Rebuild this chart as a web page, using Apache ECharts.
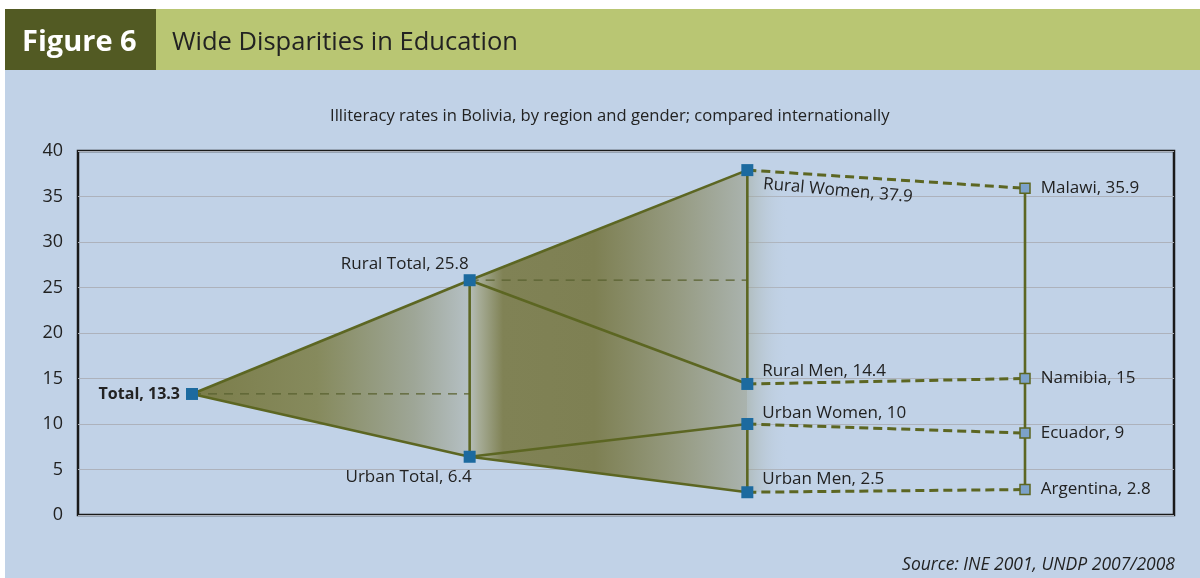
<!DOCTYPE html>
<html>
<head>
<meta charset="utf-8">
<script src="https://cdn.jsdelivr.net/npm/echarts@6/dist/echarts.min.js"></script>
<style>
html,body{margin:0;padding:0;background:#fff;}
#chart{width:1200px;height:578px;}
</style>
</head>
<body>
<div id="chart"></div>
<script>
// ---- data ----
const figureLabel = 'Figure 6';
const titleText = 'Wide Disparities in Education';
const subtitleText = 'Illiteracy rates in Bolivia, by region and gender; compared internationally';
const sourceText = 'Source: INE 2001, UNDP 2007/2008';

const bolNames  = ['Total', 'Rural Total', 'Urban Total', 'Rural Women', 'Rural Men', 'Urban Women', 'Urban Men'];
const bolValues = [13.3, 25.8, 6.4, 37.9, 14.4, 10, 2.5];
const bolStage  = [0, 1, 1, 2, 2, 2, 2];

const countryNames  = ['Malawi', 'Namibia', 'Ecuador', 'Argentina'];
const countryValues = [35.9, 15, 9, 2.8];
const countryStage  = 3;

const yTicks = [0, 5, 10, 15, 20, 25, 30, 35, 40];

// links (index pairs)
const solidLinks = [[0,1],[0,2],[1,2],[1,3],[1,4],[2,5],[2,6],[3,4],[5,6]];
const compareLinks = [[3,0],[4,1],[5,2],[6,3]]; // bolivia idx -> country idx

// ---- styles ----
const FONT = 'Open Sans';
const OLIVE = '#5c6622';
const BLUE_BG = '#c1d2e7';

const chart = echarts.init(document.getElementById('chart'));

const bolPts = bolValues.map((v, i) => [bolStage[i], v]);
const ctyPts = countryValues.map(v => [countryStage, v]);

const series = [];

// shaded fans
series.push({
  type: 'custom',
  z: 1,
  silent: true,
  data: [0],
  renderItem: function (params, api) {
    const c = (i) => api.coord(bolPts[i]);
    const p0 = c(0), p1 = c(1), p2 = c(2), p3 = c(3), p6 = c(6);
    return {
      type: 'group',
      children: [
        {
          type: 'polygon',
          shape: { points: [p0, p1, p2] },
          style: {
            fill: new echarts.graphic.LinearGradient(0, 0, 1, 0, [
              { offset: 0, color: '#7b7d4a' },
              { offset: 0.45, color: '#868a5d' },
              { offset: 0.8, color: '#9ea697' },
              { offset: 1, color: '#b5c0c4' }
            ])
          }
        },
        {
          type: 'polygon',
          shape: { points: [p1, p3, p6, p2] },
          style: {
            fill: new echarts.graphic.LinearGradient(0, 0, 1, 0, [
              { offset: 0, color: '#b5beba' },
              { offset: 0.03, color: '#a8ae9a' },
              { offset: 0.12, color: '#808255' },
              { offset: 0.45, color: '#7e8053' },
              { offset: 0.75, color: '#969b82' },
              { offset: 1, color: '#aab3ae' }
            ])
          }
        },
        {
          type: 'rect',
          shape: { x: p3[0], y: p3[1], width: 42, height: p6[1] - p3[1] },
          style: {
            fill: new echarts.graphic.LinearGradient(0, 0, 1, 0, [
              { offset: 0, color: 'rgba(160,168,150,0.5)' },
              { offset: 1, color: 'rgba(193,210,231,0)' }
            ])
          }
        }
      ]
    };
  }
});

// solid links
solidLinks.forEach(([a, b]) => {
  series.push({
    type: 'line', z: 3, silent: true, symbol: 'none',
    lineStyle: { color: OLIVE, width: 2.6 },
    data: [bolPts[a], bolPts[b]]
  });
});
// country vertical
series.push({
  type: 'line', z: 3, silent: true, symbol: 'none',
  lineStyle: { color: OLIVE, width: 2.6 },
  data: [ctyPts[0], ctyPts[ctyPts.length - 1]]
});
// thin dashed reference lines
series.push({
  type: 'line', z: 2, silent: true, symbol: 'none',
  lineStyle: { color: '#5a6230', width: 1.2, type: [9, 7] },
  data: [bolPts[0], [bolStage[1], bolValues[0]]]
});
series.push({
  type: 'line', z: 2, silent: true, symbol: 'none',
  lineStyle: { color: '#5a6230', width: 1.2, type: [9, 7] },
  data: [bolPts[1], [bolStage[3], bolValues[1]]]
});
// thick dashed comparisons
compareLinks.forEach(([a, b]) => {
  series.push({
    type: 'line', z: 3, silent: true, symbol: 'none',
    lineStyle: { color: OLIVE, width: 3, type: [9, 5] },
    data: [bolPts[a], ctyPts[b]]
  });
});

// bolivia label placements
const lbl = (txt, extra) => Object.assign({
  show: true, formatter: txt, fontFamily: FONT, fontSize: 17, color: '#222'
}, extra);
const bolLabelCfg = [
  { position: 'left', distance: 6, fontWeight: 'bold', fontSize: 16 },
  { position: 'top', align: 'right', offset: [-1, 3] },
  { position: 'bottom', align: 'right', offset: [2, 1] },
  { position: 'right', distance: 11, offset: [0, 14], rotate: -5 },
  { position: 'right', distance: 9, offset: [0, -13] },
  { position: 'right', distance: 9, offset: [0, -11] },
  { position: 'right', distance: 9, offset: [0, -13] }
];

series.push({
  type: 'scatter', z: 5, silent: true,
  symbol: 'rect', symbolSize: 12,
  itemStyle: { color: '#1c6a9f', opacity: 1 },
  data: bolPts.map((p, i) => ({
    value: p,
    label: lbl(bolNames[i] + ', ' + bolValues[i], bolLabelCfg[i])
  }))
});

series.push({
  type: 'scatter', z: 5, silent: true,
  symbol: 'rect', symbolSize: 10,
  itemStyle: { color: '#7ca2c9', borderColor: OLIVE, borderWidth: 1.5, opacity: 1 },
  data: ctyPts.map((p, i) => ({
    value: p,
    label: lbl(countryNames[i] + ', ' + countryValues[i], { position: 'right', distance: 10 })
  }))
});

const option = {
  animation: false,
  backgroundColor: '#ffffff',
  graphic: [
    { type: 'rect', z: -10, shape: { x: 5, y: 70, width: 1195, height: 508 }, style: { fill: BLUE_BG } },
    { type: 'rect', z: -10, shape: { x: 5, y: 9, width: 151, height: 61 }, style: { fill: '#525a23' } },
    { type: 'rect', z: -10, shape: { x: 156, y: 9, width: 1044, height: 61 }, style: { fill: '#b9c673' } },
    { type: 'text', left: 22, top: 28, style: { text: figureLabel, fill: '#ffffff', font: 'bold 29px "Open Sans"' } },
    { type: 'text', left: 172, top: 30, style: { text: titleText, fill: '#222', font: '25.5px "Open Sans"' } },
    { type: 'text', left: 330, top: 108, style: { text: subtitleText, fill: '#222', font: '16.6px "Open Sans"' } },
    { type: 'text', right: 25, top: 556, style: { text: sourceText, fill: '#222', font: 'italic 17.5px "Open Sans"' } }
  ],
  grid: {
    left: 78, right: 26, top: 151, bottom: 63,
    show: true, borderColor: '#1a1a1a', borderWidth: 2.5, backgroundColor: 'transparent'
  },
  xAxis: {
    type: 'value', min: -0.4105, max: 3.5366,
    show: false
  },
  yAxis: {
    type: 'value', min: yTicks[0], max: yTicks[yTicks.length - 1], interval: 5,
    axisLine: { show: false }, axisTick: { show: false },
    axisLabel: { fontFamily: FONT, fontSize: 18, color: '#222', margin: 15 },
    splitLine: { lineStyle: { color: '#adb2bc', width: 1.2 } }
  },
  series: series
};
chart.setOption(option);
</script>
</body>
</html>
